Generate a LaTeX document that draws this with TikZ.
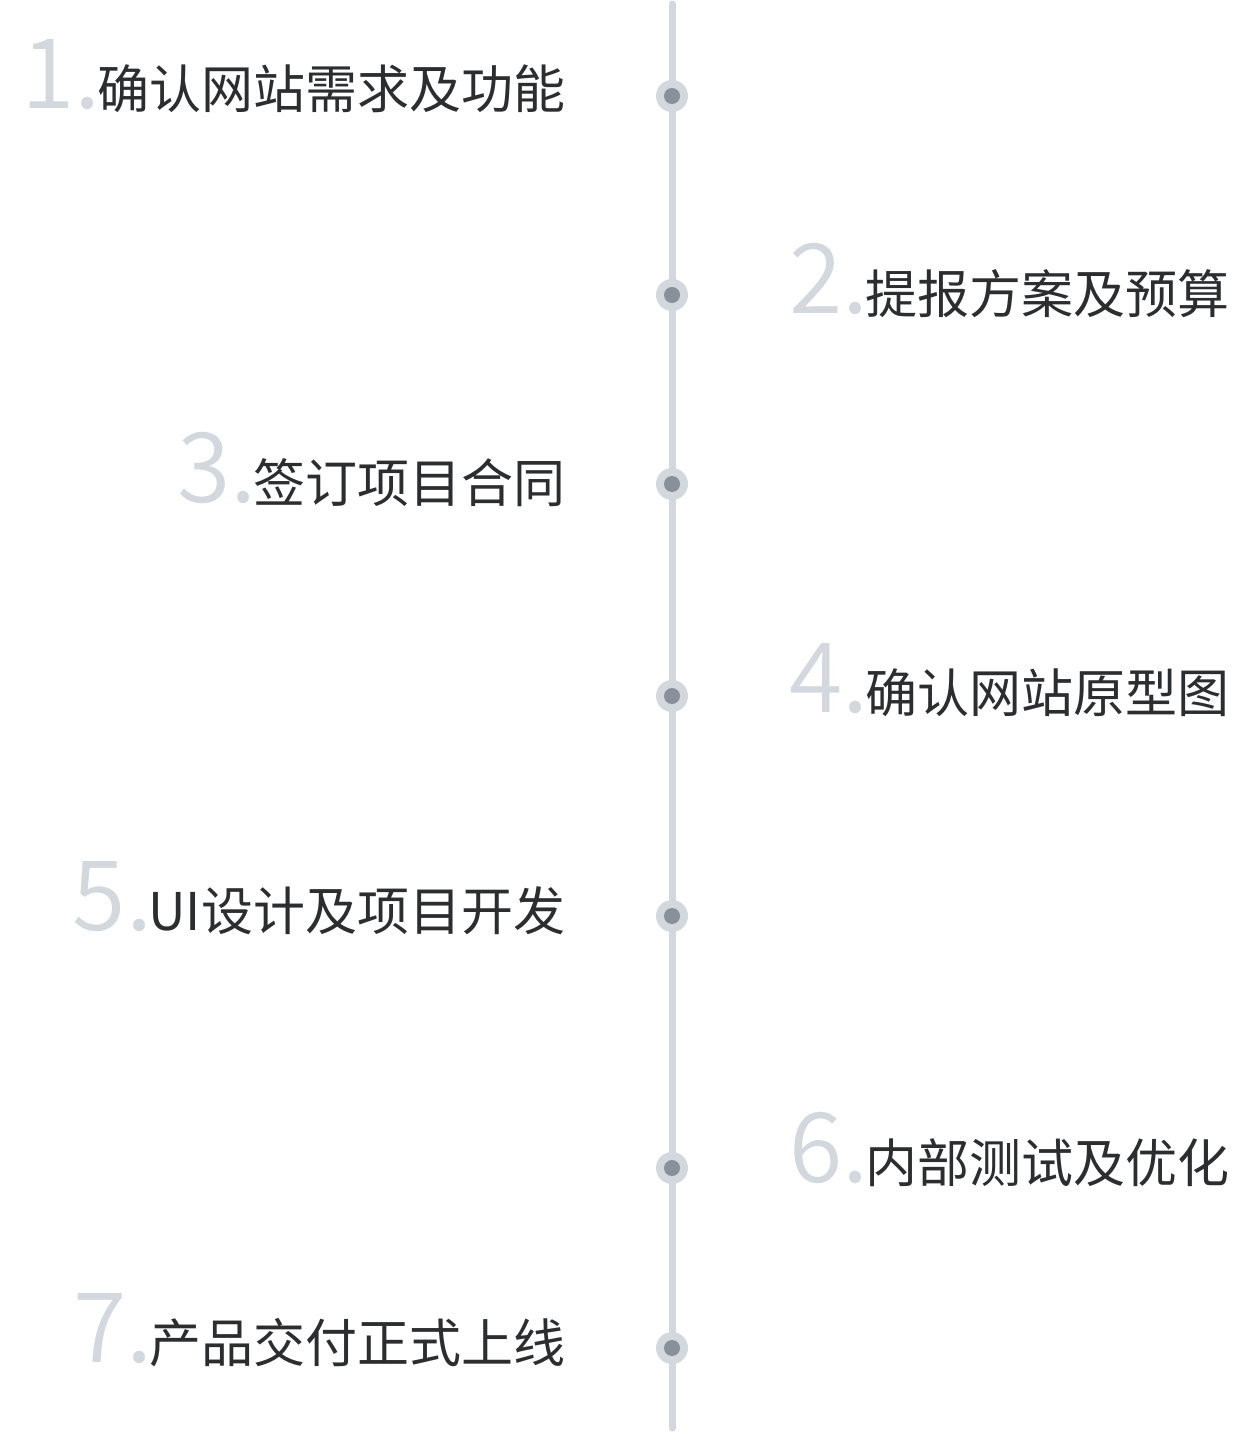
\documentclass[tikz,border=0pt]{standalone}
\usepackage{fontspec}
\newfontfamily\cjkfont{Noto Sans CJK SC}
\newfontfamily\numfont{Noto Sans CJK SC DemiLight}
\definecolor{linegray}{HTML}{D3D8DE}
\definecolor{dotgray}{HTML}{8A9099}
\definecolor{txtdark}{HTML}{2B2D2F}
\definecolor{numgray}{HTML}{D3D8DE}
\tikzset{
  stepitem/.style={inner sep=0pt, outer sep=0pt, text=txtdark},
  dotouter/.style={circle, fill=linegray, minimum size=32pt, inner sep=0pt},
  dotinner/.style={circle, fill=dotgray, minimum size=16pt, inner sep=0pt},
}
\newcommand{\stepnum}[1]{{\numfont\fontsize{97}{100}\selectfont\color{numgray}#1.}\kern-4pt}
\newcommand{\steptxt}[1]{{\cjkfont\fontsize{52}{60}\selectfont #1}}
\begin{document}
\begin{tikzpicture}[x=1pt,y=-1pt]
\useasboundingbox (0,0) rectangle (1252,1432);
\coordinate (top) at (672,4);
\coordinate (bot) at (672,1428);
\draw[linegray, line width=7pt, line cap=round] (top) -- (bot);
\foreach \i/\y in {1/96,2/295,3/484,4/696,5/916,6/1168,7/1348}{
  \node[dotouter] (o\i) at (672,\y) {};
  \node[dotinner] (d\i) at (o\i.center) {};
}
\node[stepitem, anchor=base east] (s1) at (565,108) {\stepnum{1}\steptxt{确认网站需求及功能}};
\node[stepitem, anchor=base east] (s2) at (1229,313) {\stepnum{2}\steptxt{提报方案及预算}};
\node[stepitem, anchor=base east] (s3) at (565,502) {\stepnum{3}\steptxt{签订项目合同}};
\node[stepitem, anchor=base east] (s4) at (1229,712) {\stepnum{4}\steptxt{确认网站原型图}};
\node[stepitem, anchor=base east] (s5) at (565,930) {\stepnum{5}\steptxt{UI设计及项目开发}};
\node[stepitem, anchor=base east] (s6) at (1229,1182) {\stepnum{6}\steptxt{内部测试及优化}};
\node[stepitem, anchor=base east] (s7) at (565,1362) {\stepnum{7}\steptxt{产品交付正式上线}};
\end{tikzpicture}
\end{document}
